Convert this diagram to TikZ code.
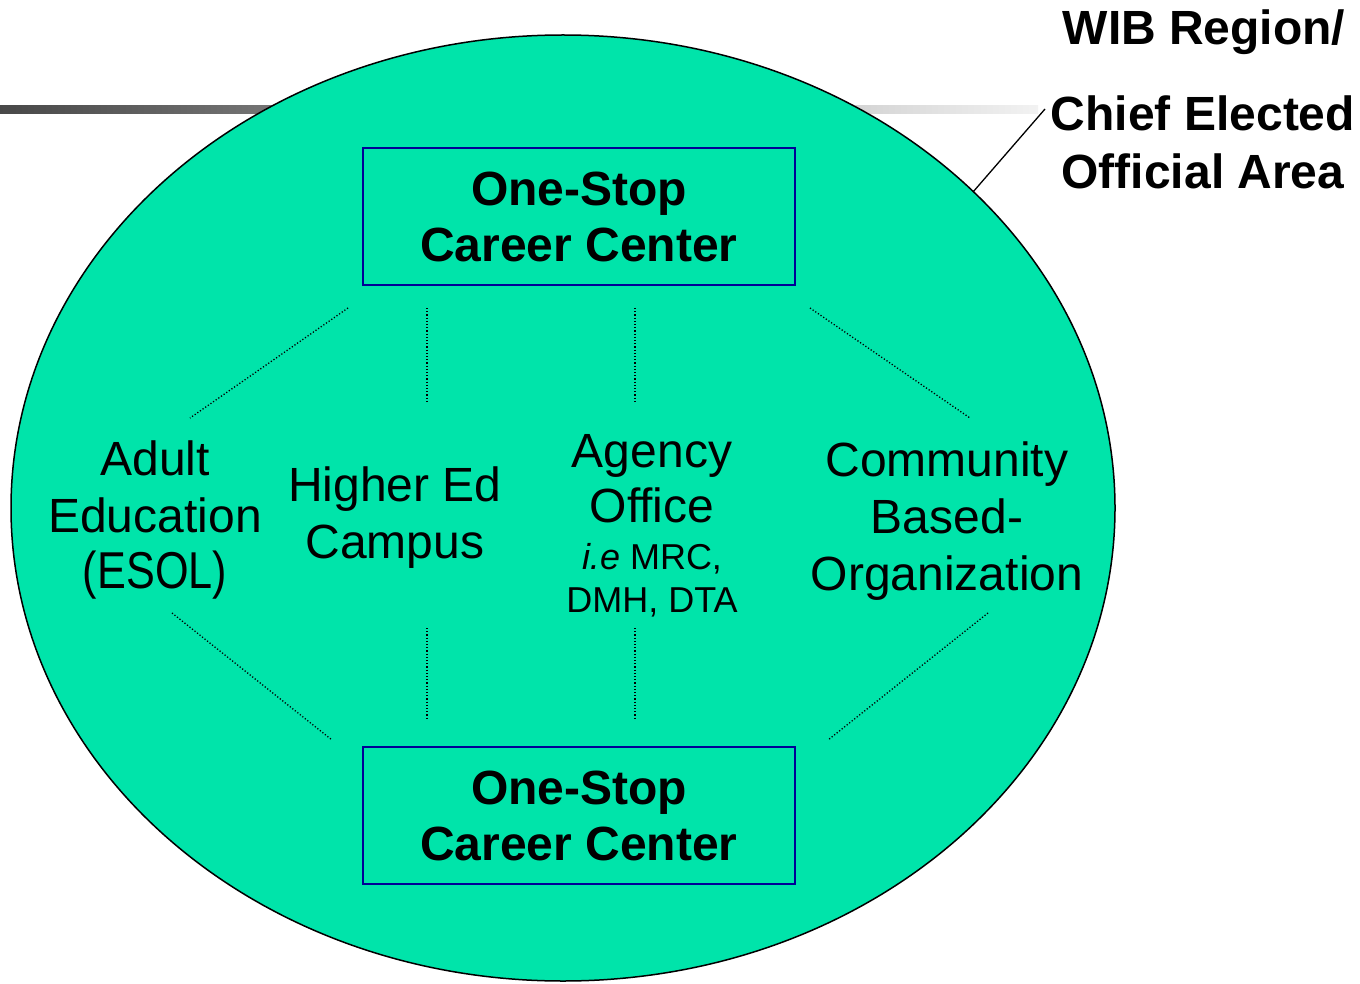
\documentclass[tikz,border=0pt]{standalone}
\usepackage{fontspec}
\usepackage{graphicx}
\setmainfont{Liberation Sans}
\usetikzlibrary{shapes.geometric}
\definecolor{areagreen}{RGB}{0,228,170}
\definecolor{boxblue}{RGB}{0,0,150}
\definecolor{bardark}{RGB}{72,72,72}
\definecolor{barlight}{RGB}{242,242,242}
\begin{document}
\begin{tikzpicture}[x=1pt,y=-1pt,
  centerbox/.style={draw=boxblue,line width=1.6pt,minimum width=432pt,minimum height=137pt,inner sep=0pt,align=center,font=\fontsize{48}{56}\selectfont\bfseries},
  partner/.style={align=center,inner sep=0pt,font=\fontsize{48}{57}\selectfont},
  linkline/.style={line width=1.3pt,dash pattern=on 1.2pt off 2pt},
  regionlabel/.style={align=center,inner sep=0pt,font=\fontsize{48}{58}\selectfont\bfseries}]
\useasboundingbox (0,0) rectangle (1360,984);
% gray bar behind the ellipse
\shade[left color=bardark,right color=barlight] (0,106) rectangle (1038,114);
% region ellipse
\node[ellipse,draw=black,line width=1.5pt,fill=areagreen,minimum width=1104pt,minimum height=946pt,inner sep=0pt] (area) at (563,508) {};
% centers
\node[centerbox] (top) at (579,216.5) {One-Stop\\Career Center};
\node[centerbox] (bottom) at (579,815.5) {One-Stop\\Career Center};
% partners
\node[partner,font=\fontsize{48}{56.5}\selectfont] (adult) at (155,520) {Adult\\Education\\\scalebox{0.9}[1.08]{(ESOL)}};
\node[partner] (higher) at (395,518) {Higher Ed\\Campus};
\node[partner,font=\fontsize{48}{55}\selectfont] (agency) at (652,479) {Agency\\Office};
\node[partner,font=\fontsize{36}{43}\selectfont] (agencysub) at (652,580) {\textit{i.e} MRC,\\DMH, DTA};
\node[partner] (cbo) at (947,521) {Community\\Based-\\Organization};
% dotted links
\coordinate (t1) at (348,308); \coordinate (a1) at (190,418);
\coordinate (t2) at (427,308); \coordinate (h1) at (427,401);
\coordinate (t3) at (635,308); \coordinate (g1) at (635,401);
\coordinate (t4) at (810,308); \coordinate (c1) at (970,418);
\coordinate (a2) at (172,613); \coordinate (b1) at (332,740);
\coordinate (h2) at (427,628); \coordinate (b2) at (427,720);
\coordinate (g2) at (635,628); \coordinate (b3) at (635,720);
\coordinate (c2) at (988,613); \coordinate (b4) at (828,740);
\draw[linkline] (t1) -- (a1);
\draw[linkline] (t2) -- (h1);
\draw[linkline] (t3) -- (g1);
\draw[linkline] (t4) -- (c1);
\draw[linkline] (a2) -- (b1);
\draw[linkline] (h2) -- (b2);
\draw[linkline] (g2) -- (b3);
\draw[linkline] (c2) -- (b4);
% region label
\node[regionlabel] (wib) at (1204,32) {WIB Region/};
\node[regionlabel] (ceo) at (1203,142) {Chief Elected\\Official Area};
\coordinate (lead) at (1045,109);
\coordinate (edge) at (973,192);
\draw[line width=1.3pt] (edge) -- (lead);
\end{tikzpicture}
\end{document}
